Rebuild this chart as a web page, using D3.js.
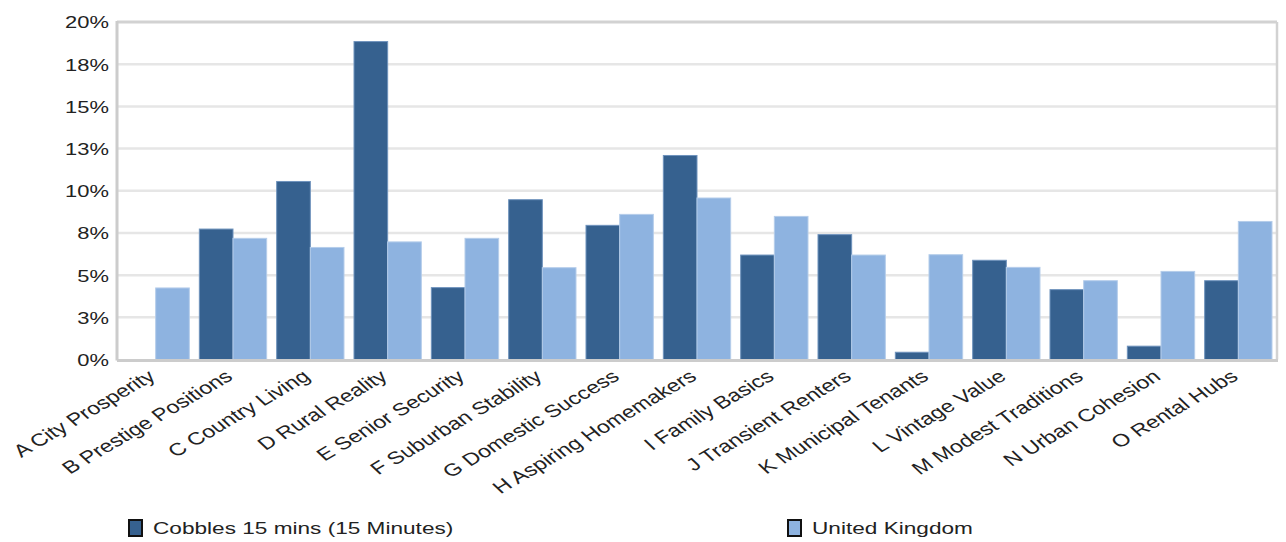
<!DOCTYPE html>
<html><head><meta charset="utf-8">
<script src="https://cdn.jsdelivr.net/npm/d3@7"></script>
<style>body{margin:0;background:#fff;} text{font-family:"Liberation Sans",Arial,sans-serif;fill:#222;}</style>
</head><body><svg id="c" width="1286" height="542"></svg>
<script>
const categories = ["A City Prosperity","B Prestige Positions","C Country Living","D Rural Reality","E Senior Security","F Suburban Stability","G Domestic Success","H Aspiring Homemakers","I Family Basics","J Transient Renters","K Municipal Tenants","L Vintage Value","M Modest Traditions","N Urban Cohesion","O Rental Hubs"];
const seriesNames = ["Cobbles 15 mins (15 Minutes)","United Kingdom"];
const cobbles = [0, 7.73, 10.55, 18.84, 4.26, 9.47, 7.95, 12.09, 6.19, 7.40, 0.43, 5.88, 4.14, 0.79, 4.67];
const uk = [4.24, 7.18, 6.64, 6.97, 7.18, 5.44, 8.60, 9.57, 8.48, 6.19, 6.21, 5.46, 4.67, 5.22, 8.18];
const yTicks = [0, 2.5, 5, 7.5, 10, 12.5, 15, 17.5, 20];
const colors = ["#36618f", "#8eb3e0"];

const SX = 1.33; // horizontal text stretch seen in the reference
const svg = d3.select("#c");
const L = 117, R = 1277, T = 22, B = 359.5;
const x0 = d3.scaleBand().domain(categories).range([L, R]).padding(0);
const x1 = d3.scaleBand().domain([0,1]).range([5, x0.bandwidth()-5]).padding(0);
const y = d3.scaleLinear().domain([0, 20]).range([B, T]);

// gridlines
svg.append("g").selectAll("line").data(yTicks.slice(1)).join("line")
  .attr("x1", L).attr("x2", R).attr("y1", d => y(d)).attr("y2", d => y(d))
  .attr("stroke", d => d === 20 ? "#d2d2d2" : "#e6e6e6").attr("stroke-width", d => d === 20 ? 3 : 2.5);
svg.append("line").attr("x1", R).attr("x2", R).attr("y1", T).attr("y2", B).attr("stroke", "#d2d2d2").attr("stroke-width", 2.5);

// bars
const data = categories.map((c, i) => ({c, v: [cobbles[i], uk[i]]}));
const g = svg.append("g").selectAll("g").data(data).join("g").attr("transform", d => `translate(${x0(d.c)},0)`);
g.selectAll("rect").data(d => d.v.map((v, k) => ({v, k}))).join("rect")
  .filter(d => d.v > 0)
  .attr("x", d => x1(d.k)).attr("width", x1.bandwidth())
  .attr("y", d => y(d.v)).attr("height", d => y(0) - y(d.v))
  .attr("fill", d => colors[d.k])
  .attr("stroke", d => d.k === 0 ? "#6f93bd" : "#b5cdea").attr("stroke-width", 1);

// axis lines
svg.append("line").attr("x1", L).attr("x2", L).attr("y1", T - 1).attr("y2", B + 1).attr("stroke", "#cccccc").attr("stroke-width", 3);
svg.append("line").attr("x1", L).attr("x2", R + 1).attr("y1", B + 1).attr("y2", B + 1).attr("stroke", "#cccccc").attr("stroke-width", 3);

// y axis labels
const yAxis = d3.axisLeft(y).tickValues(yTicks).tickSize(0).tickPadding(0).tickFormat(d => Math.round(d) + "%");
const ya = svg.append("g").attr("transform", `translate(${L - 8},0)`).call(yAxis);
ya.select(".domain").remove();
ya.selectAll("text").style("font-size", "16.5px").attr("fill", "#222").attr("font-family", "Liberation Sans, Arial, sans-serif")
  .attr("x", 0).attr("dy", "0.36em").attr("transform", `scale(${SX},1)`);

// x axis labels
const xAxis = d3.axisBottom(x0).tickSize(0).tickPadding(0);
const xa = svg.append("g").attr("transform", `translate(0,${B})`).call(xAxis);
xa.select(".domain").remove();
xa.selectAll("text").style("font-size", "17.5px").attr("fill", "#222").attr("font-family", "Liberation Sans, Arial, sans-serif")
  .attr("text-anchor", "end").attr("dy", null).attr("y", 0)
  .attr("transform", `translate(1,19) scale(${SX},1) rotate(-38)`);

// legend
const legendX = [128, 787];
const lg = svg.append("g").selectAll("g").data(seriesNames).join("g")
  .attr("transform", (d, i) => `translate(${legendX[i]},519)`);
lg.append("rect").attr("x", 1).attr("y", 1).attr("width", 13).attr("height", 16)
  .attr("fill", (d, i) => colors[i]).attr("stroke", "#111").attr("stroke-width", 2);
lg.append("text").attr("transform", `translate(25,15) scale(${SX},1)`).style("font-size", "17px").text(d => d);
</script></body></html>
